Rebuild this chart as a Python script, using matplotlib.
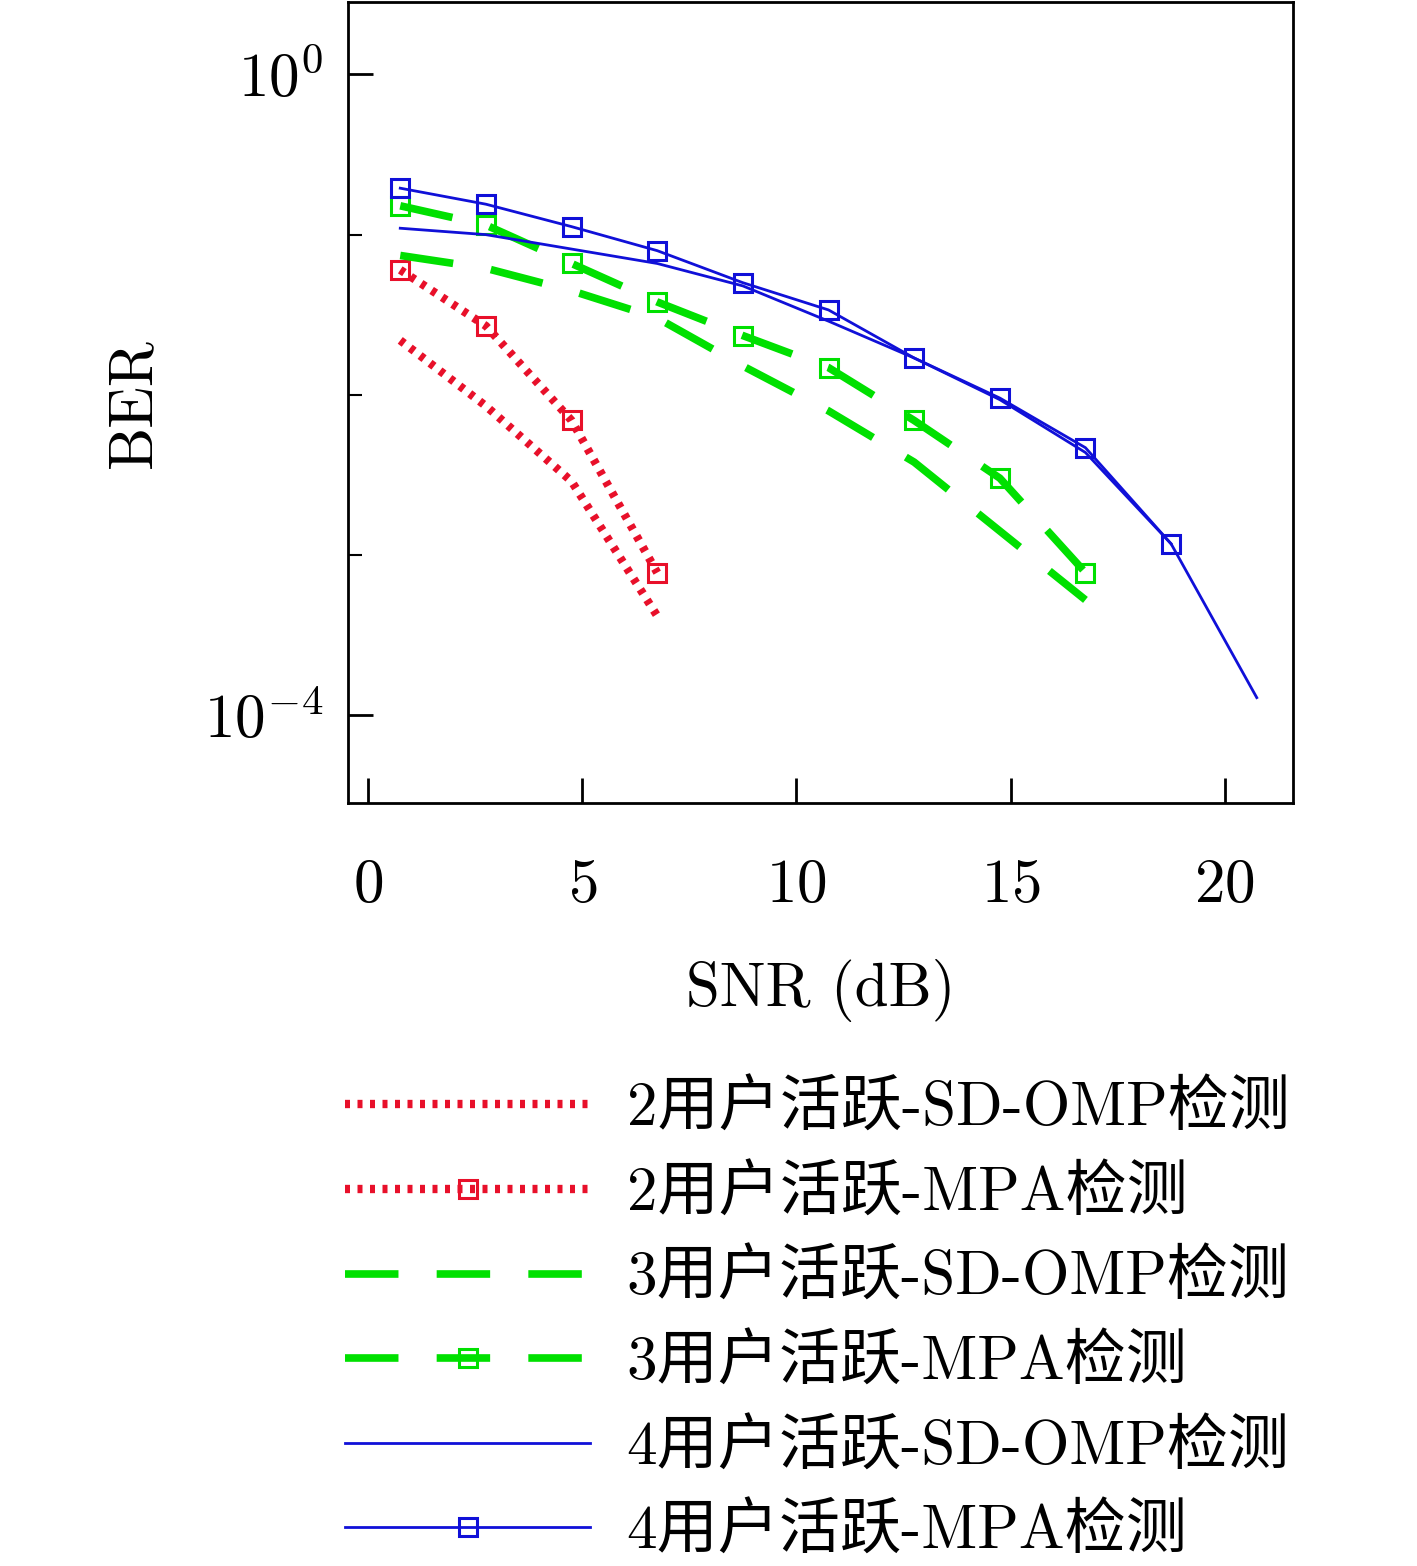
import matplotlib
matplotlib.use("Agg")
import matplotlib.pyplot as plt
from matplotlib.ticker import NullFormatter, FixedLocator
import numpy as np

plt.rcParams['font.family'] = ['cmr10', 'Noto Sans CJK SC']
plt.rcParams['mathtext.fontset'] = 'cm'
plt.rcParams['axes.formatter.use_mathtext'] = True

snr = [0.75, 2.75, 4.75, 6.75, 8.75, 10.75, 12.75, 14.75, 16.75, 18.75, 20.75]
red_omp = [-1.66, -2.07, -2.54, -3.38]
red_mpa = [-1.22, -1.57, -2.16, -3.11]
green_omp = [-1.13, -1.21, -1.35, -1.52, -1.82, -2.10, -2.42, -2.85, -3.28]
green_mpa = [-0.82, -0.94, -1.18, -1.42, -1.63, -1.83, -2.16, -2.52, -3.11]
blue_omp = [-0.96, -1.00, -1.09, -1.18, -1.32, -1.54, -1.77, -2.03, -2.36, -2.93, -3.89]
blue_mpa = [-0.71, -0.81, -0.95, -1.10, -1.30, -1.47, -1.77, -2.02, -2.33, -2.93]
labels = ['2用户活跃-SD-OMP检测', '2用户活跃-MPA检测', '3用户活跃-SD-OMP检测',
          '3用户活跃-MPA检测', '4用户活跃-SD-OMP检测', '4用户活跃-MPA检测']

fig = plt.figure(figsize=(14.17, 15.66), dpi=100)
ax = fig.add_axes([0.2456, 0.487, 0.667, 0.5115])
red, green, blue = '#e8102a', '#00e000', '#1010d8'
dot = (0, (0.6, 0.9))
dash = (0, (7, 5))
series = [(red_omp, red, dot, 6, None), (red_mpa, red, dot, 6, 's'),
          (green_omp, green, dash, 5.5, None), (green_mpa, green, dash, 5.5, 's'),
          (blue_omp, blue, '-', 2, None), (blue_mpa, blue, '-', 2, 's')]
for (vals, c, ls, lw, m), lab in zip(series, labels):
    y = 10 ** np.array(vals)
    ax.plot(snr[:len(vals)], y, color=c, ls=ls, lw=lw, marker=m, ms=13,
            mfc='none', mew=2.2, label=lab)
ax.set_yscale('log')
ax.set_xlim(-0.47, 21.6)
ax.set_ylim(10 ** -4.55, 10 ** 0.45)
ax.set_xticks([0, 5, 10, 15, 20])
ax.yaxis.set_major_locator(FixedLocator([1e-4, 1e0]))
ax.yaxis.set_minor_locator(FixedLocator([1e-3, 1e-2, 1e-1]))
ax.yaxis.set_minor_formatter(NullFormatter())
ax.set_yticklabels([r'$10^{-4}$', r'$10^{0}$'])
ax.tick_params(direction='in', labelsize=44, length=18, width=2)
ax.tick_params(axis='x', pad=40)
ax.tick_params(axis='y', pad=18)
ax.tick_params(which='minor', direction='in', length=10, width=1.5)
for s in ax.spines.values():
    s.set_linewidth(2)
ax.set_xlabel('SNR (dB)', fontsize=44, labelpad=32)
ax.set_ylabel('BER', fontsize=44, labelpad=30)
fig.legend(loc='upper left', bbox_to_anchor=(0.205, 0.345), fontsize=44,
           frameon=False, handlelength=4.0, labelspacing=0.45, handletextpad=0.6)
fig.savefig('out.png', dpi=100)
